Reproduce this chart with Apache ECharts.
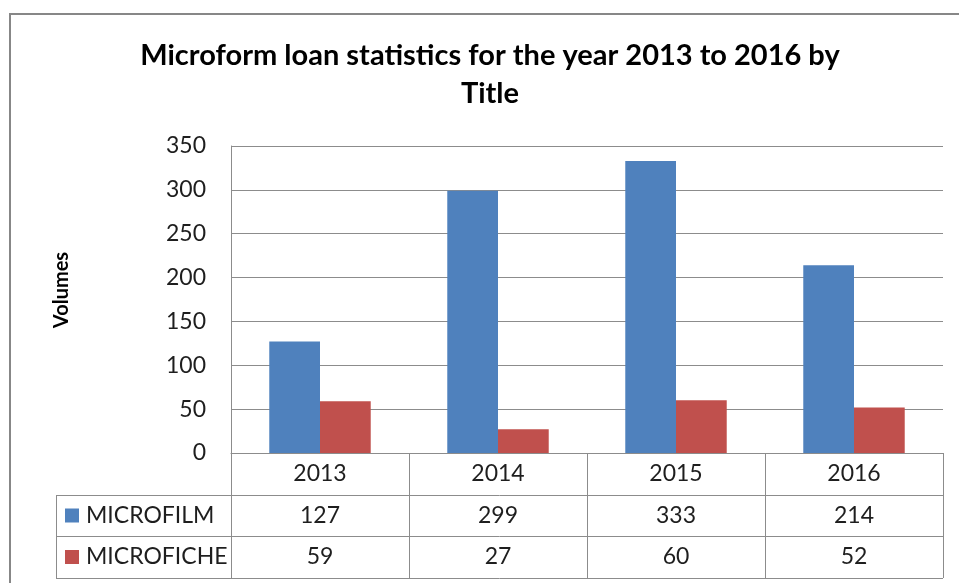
<!DOCTYPE html>
<html>
<head>
<meta charset="utf-8">
<script src="https://cdn.jsdelivr.net/npm/echarts@6/dist/echarts.min.js"></script>
<style>
  html, body { margin: 0; padding: 0; background: #ffffff; }
  #chart { width: 959px; height: 583px; }
</style>
</head>
<body>
<div id="chart"></div>
<script>
// Loan counts per year, by title format
const years = ['2013', '2014', '2015', '2016'];
const microfilm = [127, 299, 333, 214];
const microfiche = [59, 27, 60, 52];
const seriesNames = ['MICROFILM', 'MICROFICHE'];
const yMin = 0, yMax = 350, yStep = 50;

const titleLines = ['Microform loan statistics for the year 2013 to 2016 by', 'Title'];
const yTitle = 'Volumes';

// Layout
const FONT = 'Lato, "Open Sans", sans-serif';
const TEXT = '#1e1e1e';
const LINE = '#8c8c8c';
const GRID_LEFT = 231, GRID_TOP = 146, GRID_RIGHT = 943, AXIS_Y = 453;
const ROW_H = 41.5;
const TABLE_LEFT = 56;

const chart = echarts.init(document.getElementById('chart'), null, { renderer: 'canvas' });

const values = [microfilm, microfiche];

const tableLines = [];
for (let r = 1; r <= 3; r++) {
  const y = Math.round(AXIS_Y + r * ROW_H) + 0.5;
  tableLines.push({
    type: 'line',
    shape: { x1: TABLE_LEFT, y1: y, x2: GRID_RIGHT, y2: y },
    style: { stroke: LINE, lineWidth: 1 },
    silent: true
  });
}
tableLines.push({
  type: 'line',
  shape: { x1: TABLE_LEFT + 0.5, y1: Math.round(AXIS_Y + ROW_H) + 0.5, x2: TABLE_LEFT + 0.5, y2: Math.round(AXIS_Y + 3 * ROW_H) + 0.5 },
  style: { stroke: LINE, lineWidth: 1 },
  silent: true
});

const option = {
  animation: false,
  backgroundColor: '#ffffff',
  color: ['#4F81BD', '#C0504D'],
  grid: {
    left: GRID_LEFT,
    top: GRID_TOP,
    width: GRID_RIGHT - GRID_LEFT,
    height: AXIS_Y - GRID_TOP,
    containLabel: false
  },
  legend: {
    data: seriesNames,
    orient: 'vertical',
    left: 65,
    top: 504,
    height: 200,
    padding: 0,
    icon: 'rect',
    itemWidth: 14,
    itemHeight: 14,
    itemGap: ROW_H - 23,
    textStyle: { fontFamily: FONT, fontSize: 23, color: TEXT, padding: [0, 0, 0, 2] },
    selectedMode: false
  },
  xAxis: {
    type: 'category',
    data: years,
    axisLine: { show: true, lineStyle: { color: LINE, width: 1 } },
    axisTick: { show: true, inside: false, length: Math.round(3 * ROW_H), interval: 0, lineStyle: { color: LINE, width: 1 } },
    axisLabel: {
      interval: 0,
      margin: 0,
      formatter: function (value, idx) {
        return '{c|' + value + '}\n{c|' + microfilm[idx] + '}\n{c|' + microfiche[idx] + '}';
      },
      rich: {
        c: { fontFamily: FONT, fontSize: 23, color: TEXT, lineHeight: ROW_H, align: 'center' }
      }
    },
    splitLine: { show: false }
  },
  yAxis: {
    type: 'value',
    min: yMin,
    max: yMax,
    interval: yStep,
    axisLine: { show: true, lineStyle: { color: LINE, width: 1 } },
    axisTick: { show: false },
    axisLabel: { fontFamily: FONT, fontSize: 23, color: TEXT, margin: 25 },
    splitLine: { show: true, lineStyle: { color: LINE, width: 1 } }
  },
  series: seriesNames.map(function (name, i) {
    return {
      name: name,
      type: 'bar',
      data: values[i],
      barGap: '0%',
      barCategoryGap: '43%',
      itemStyle: { borderWidth: 0 }
    };
  }),
  graphic: [
    {
      type: 'rect',
      shape: { x: 10, y: 14, width: 1200, height: 1200 },
      style: { fill: 'none', stroke: '#878787', lineWidth: 2 },
      silent: true
    },
    {
      type: 'text',
      x: 490, y: 56,
      style: { text: titleLines[0], font: 'bold 29px ' + FONT, fill: '#000', align: 'center', verticalAlign: 'middle' },
      silent: true
    },
    {
      type: 'text',
      x: 490, y: 94,
      style: { text: titleLines[1], font: 'bold 29px ' + FONT, fill: '#000', align: 'center', verticalAlign: 'middle' },
      silent: true
    },
    {
      type: 'text',
      x: 62, y: 290,
      rotation: Math.PI / 2,
      style: { text: yTitle, font: 'bold 20px ' + FONT, fill: '#000', align: 'center', verticalAlign: 'middle' },
      silent: true
    }
  ].concat(tableLines)
};

chart.setOption(option);
</script>
</body>
</html>
